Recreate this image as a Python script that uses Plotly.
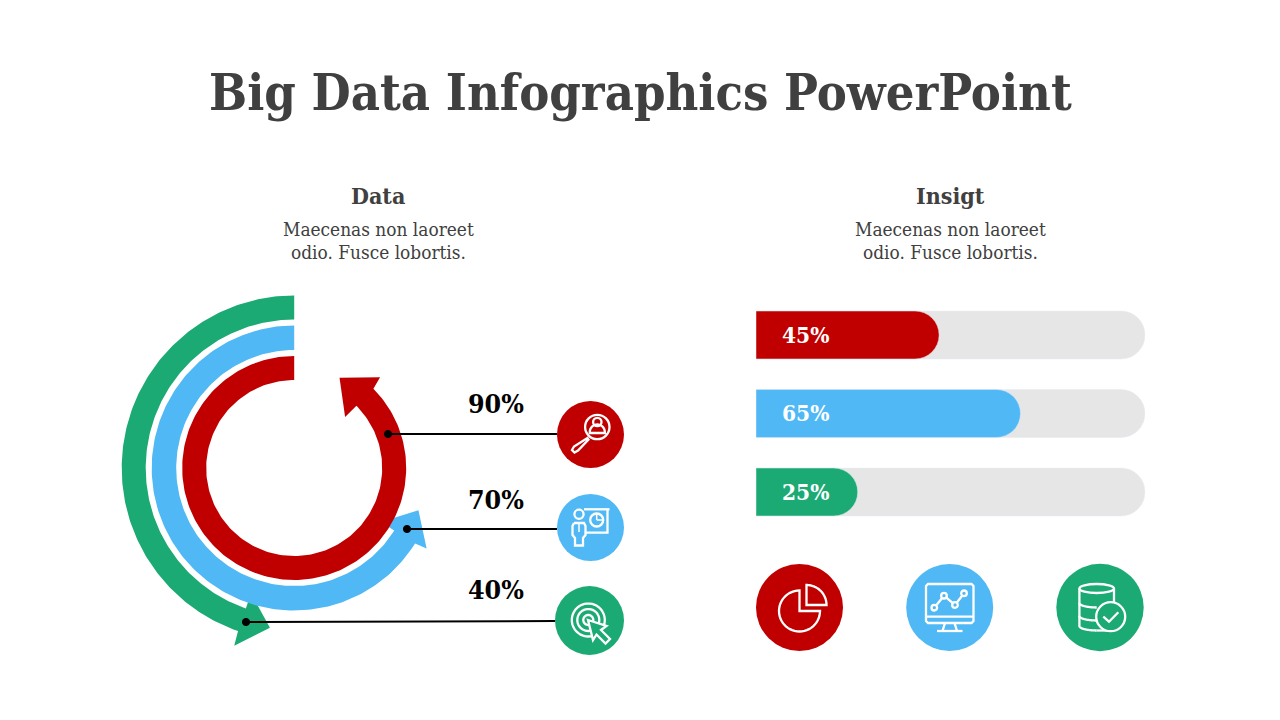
import numpy as np
import plotly.graph_objects as go

title = "Big Data Infographics PowerPoint"
heads = ["Data", "Insigt"]
body_lines = ["Maecenas non laoreet", "odio. Fusce lobortis."]

RED = "#C00000"
BLUE = "#4FB8F5"
GREEN = "#1BAA73"
GREY = "#E6E6E6"
DARK = "#404040"

# rings, drawn green first so the inner ones sit on top
ring_labels = ["40%", "70%", "90%"]
ring_sweep = [161, 238, 315]  # degrees as drawn in the picture
ring_colors = [GREEN, BLUE, RED]

# bars
bar_names = ["a", "b", "c"]
bar_values = [45, 65, 25]
bar_track = [95.6, 95.6, 95.6]
bar_colors = [RED, BLUE, GREEN]

cx, cy = 294.2, 468
ring_radii = [(148.5, 172.5), (118, 142.5), (88, 112)]
head_reach = [(29, 15, 0.006), (30, 12.5, 0.012), (32, 13, 0.028)]  # tip length, barb overhang, barb lean


def ring_outline(r0, r1, sweep, reach):
    length, over, lean = reach
    a = np.radians(np.linspace(0, -sweep, 200))
    end = np.radians(-sweep)
    mid = (r0 + r1) / 2
    tip = end - length / mid
    r_out = np.r_[np.full(200, r1), r1 + over, mid + 1, r0 - 16, np.full(200, r0)]
    ang = np.r_[a, end - lean, tip, end, a[::-1]]
    return cx + r_out * np.sin(ang), cy - r_out * np.cos(ang)


fig = go.Figure()

for (r0, r1), sweep, reach, col, lab in zip(ring_radii, ring_sweep, head_reach, ring_colors, ring_labels):
    xs, ys = ring_outline(r0, r1, sweep, reach)
    fig.add_trace(go.Scatter(x=xs, y=ys, mode="lines", fill="toself", fillcolor=col,
                             line=dict(width=0, color=col), name=lab, hoverinfo="skip"))

# track and value bars live on separate axes, plotly only rounds the longest bar of a position
fig.add_trace(go.Bar(y=bar_names, x=bar_track, orientation="h", width=0.611, xaxis="x2", yaxis="y2",
                     marker=dict(color=GREY, cornerradius=24), hoverinfo="skip"))
fig.add_trace(go.Bar(y=bar_names, x=bar_values, orientation="h", width=0.611, xaxis="x3", yaxis="y3",
                     marker=dict(color=bar_colors, cornerradius=24), hoverinfo="skip"))

shapes = []


def line(pts, color="white", w=2.3, fill=None, closed=False):
    d = "M" + " L".join(f"{x:.2f},{y:.2f}" for x, y in pts)
    if closed:
        d += " Z"
    shapes.append(dict(type="path", path=d, xref="x", yref="y", fillcolor=fill or "rgba(0,0,0,0)",
                       line=dict(color=color, width=w)))


def circle(x, y, r, fill=None, color="white", w=2.3, ry=None):
    ry = r if ry is None else ry
    shapes.append(dict(type="circle", xref="x", yref="y", x0=x - r, x1=x + r, y0=y - ry, y1=y + ry,
                       fillcolor=fill or "rgba(0,0,0,0)", line=dict(color=color, width=w)))


def arc(x, y, r, a0, a1, ry=None, n=40):
    ry = r if ry is None else ry
    t = np.radians(np.linspace(a0, a1, n))
    return list(zip(x + r * np.sin(t), y - ry * np.cos(t)))


# leader lines, dots
line([(388, 434), (557, 434)], "black", 2)
line([(407, 529), (557, 529)], "black", 2)
line([(246, 622), (555, 621)], "black", 2)
for dx, dy in [(388, 434), (407, 529), (246, 622)]:
    circle(dx, dy, 3.6, fill="black", color="black", w=1)

# icon discs
circle(590.5, 434.5, 33.5, fill=RED, color=RED, w=0)
circle(590.5, 527.5, 33.5, fill=BLUE, color=BLUE, w=0)
circle(589.5, 620.5, 34.5, fill=GREEN, color=GREEN, w=0)
circle(799.5, 607.5, 43.5, fill=RED, color=RED, w=0)
circle(949.7, 607.5, 43.5, fill=BLUE, color=BLUE, w=0)
circle(1100, 607.5, 43.7, fill=GREEN, color=GREEN, w=0)

# magnifier
circle(597.3, 427, 12.2)
circle(597.3, 422, 4.2)
line(arc(597.3, 432, 7.5, -90, 90) + [(604.8, 433), (589.8, 433)], closed=True)
line([(587.5, 438), (574, 446.5), (572, 450), (574.5, 452.5), (578, 450.5), (588.5, 439.5)], closed=True)

# presenter
line([(584, 509.3), (609.5, 509.3)])
line([(607.5, 509.3), (607.5, 532.7), (586, 532.7)])
circle(596.7, 520, 6.5)
line([(596.7, 520), (596.7, 513.5)], w=1.5)
line([(596.7, 520), (603, 520)], w=1.5)
circle(579, 514.3, 4.6)
line([(574, 523), (572.5, 526), (572.5, 535), (575, 538), (575, 545.5), (583, 545.5), (583, 538),
      (585.5, 535), (585.5, 526), (584, 523), (574, 523)])
line([(579, 523), (579, 532)], w=1.5)

# target with cursor
line(arc(588.3, 620, 16.5, -300, 60))
line(arc(588.3, 620, 11, -300, 60))
line(arc(588.3, 620, 5, -300, 60))
line([(588, 620), (606.5, 626), (601, 630), (610, 639), (605.5, 643.5), (596.5, 634.5), (593, 640)],
     fill=GREEN, closed=True)

# pie
line(arc(799.5, 611, 20.5, 0, -270) + [(799.5, 611)], closed=True)
line(arc(806.5, 605, 20, 0, 90) + [(806.5, 605)], closed=True)

# monitor
line([(928, 584), (971.5, 584), (973.5, 586), (973.5, 621), (971.5, 623), (928, 623), (926, 621), (926, 586)],
     closed=True)
line([(926, 616.7), (973.5, 616.7)])
line([(945, 623), (942.5, 631)])
line([(954.5, 623), (957, 631)])
line([(937, 631), (962.5, 631)])
pts = [(934.3, 607.7), (944, 595.7), (955, 605), (964, 593.3)]
line(pts)
for px, py in pts:
    circle(px, py, 2.8, fill=BLUE)

# database
circle(1096.7, 588.5, 17.3, ry=4.5)
line([(1079.4, 588.5), (1079.4, 626)])
line(arc(1096.7, 626, 17.3, -90, -180, ry=4.5))
line(arc(1096.7, 603, 17.3, -90, -180, ry=4.5))
line(arc(1096.7, 616, 17.3, -90, -180, ry=4.5))
line([(1114, 588.5), (1114, 603)])
line([(1096.7, 630.5), (1108, 630.5)])
circle(1110.7, 616.7, 14.5, fill=GREEN)
line([(1103.3, 616.7), (1109, 621.7), (1118.3, 612.3)])

annotations = []


def text(x, y, s, size, color=DARK, bold=False, family="DejaVu Serif Condensed"):
    annotations.append(dict(x=x, y=y, xref="x", yref="y", text=s, showarrow=False, xanchor="center",
                            yanchor="middle", font=dict(family=family, size=size, color=color,
                                                        weight=700 if bold else 400)))


text(640.5, 92, title, 50.2, bold=True)
text(378, 195, heads[0], 23, bold=True)
text(950.5, 195, heads[1], 23, bold=True)
for tx in [378.5, 950.5]:
    text(tx, 229, body_lines[0], 18.9)
    text(tx, 252, body_lines[1], 18.9)
for lab, ly in zip(ring_labels[::-1], [403, 499, 589]):
    text(495.5, ly, lab, 26.5, color="black", bold=True)
for val, ly in zip(bar_values, [335, 413, 492]):
    text(805.5, ly, f"{val}%", 22.5, color="white", bold=True)

bar_y_domain = [1 - 531.25 / 720, 1 - 295.75 / 720]
bar_x_domain = [756 / 1280, 1145 / 1280]

fig.update_layout(
    width=1280, height=720, margin=dict(l=0, r=0, t=0, b=0), showlegend=False,
    paper_bgcolor="white", plot_bgcolor="white",
    xaxis=dict(range=[0, 1280], visible=False, fixedrange=True),
    yaxis=dict(range=[720, 0], visible=False, fixedrange=True),
    xaxis2=dict(domain=bar_x_domain, range=[0, 95.6], visible=False, anchor="y2"),
    yaxis2=dict(domain=bar_y_domain, range=[2.5, -0.5], type="category", visible=False, anchor="x2"),
    xaxis3=dict(domain=bar_x_domain, range=[0, 95.6], visible=False, anchor="y3", overlaying="x2"),
    yaxis3=dict(domain=bar_y_domain, range=[2.5, -0.5], type="category", visible=False, anchor="x3",
                overlaying="y2"),
    shapes=shapes, annotations=annotations,
)

fig.write_html("out.html", config=dict(displayModeBar=False),
               post_script="document.body.style.margin='0';")
